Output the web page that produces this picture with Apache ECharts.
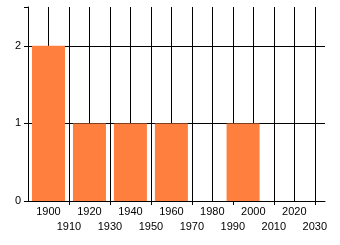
<!DOCTYPE html>
<html><head><meta charset="utf-8">
<script src="https://cdn.jsdelivr.net/npm/echarts@6/dist/echarts.min.js"></script>
<style>html,body{margin:0;padding:0;background:#fff}#c{width:340px;height:245px}</style>
</head><body><div id="c"></div>
<script>
const years = [1900, 1920, 1940, 1960, 1995];
const counts = [2, 1, 1, 1, 1];
const xLabels = [1900, 1910, 1920, 1930, 1940, 1950, 1960, 1970, 1980, 1990, 2000, 2010, 2020, 2030];
const xTickMarks = [1910, 1930, 1950, 1970, 1990, 2010, 2030];
const yTicks = [0, 1, 2];
const xMin = 1890, xMax = 2035;

const font = {fontFamily: 'Liberation Sans, Arial, sans-serif', fontSize: 11, color: '#000'};
const chart = echarts.init(document.getElementById('c'), null, {renderer: 'canvas'});
chart.setOption({
  animation: false,
  backgroundColor: '#fff',
  grid: {left: 28, right: 15, top: 7, bottom: 44, containLabel: false},
  xAxis: [{
    type: 'value', min: xMin, max: xMax, interval: 10, position: 'bottom',
    axisLine: {show: true, onZero: false, lineStyle: {color: '#000', width: 1}},
    axisTick: {show: true, length: 4, customValues: [xMin, ...xTickMarks, xMax], lineStyle: {color: '#000', width: 1}},
    splitLine: {show: false},
    axisLabel: {
      show: true, margin: 3, ...font, lineHeight: 15, hideOverlap: false,
      showMinLabel: false, showMaxLabel: false,
      customValues: [xMin, ...xLabels, xMax],
      formatter: v => xLabels.indexOf(v) < 0 ? '' : (xLabels.indexOf(v) % 2 === 1 ? '\n' : '') + v
    }
  }, {
    type: 'value', min: xMin, max: xMax, interval: 10, position: 'top',
    axisLine: {show: false},
    axisTick: {show: false},
    splitLine: {show: true, showMaxLine: false, lineStyle: {color: '#000', width: 1}},
    axisLabel: {show: false}
  }],
  yAxis: {
    type: 'value', min: 0, max: 2.5, interval: 1,
    axisLine: {show: true, lineStyle: {color: '#000', width: 1}},
    axisTick: {show: true, length: 4, lineStyle: {color: '#000'}},
    splitLine: {show: true, showMaxLine: false, lineStyle: {color: '#000', width: 1}},
    axisLabel: {margin: 7, ...font, customValues: yTicks}
  },
  series: [{
    type: 'bar', xAxisIndex: 0, barWidth: 33, z: 3,
    itemStyle: {color: '#FF7F3F'},
    data: years.map((y, i) => [y, counts[i]])
  }]
});
</script></body></html>
